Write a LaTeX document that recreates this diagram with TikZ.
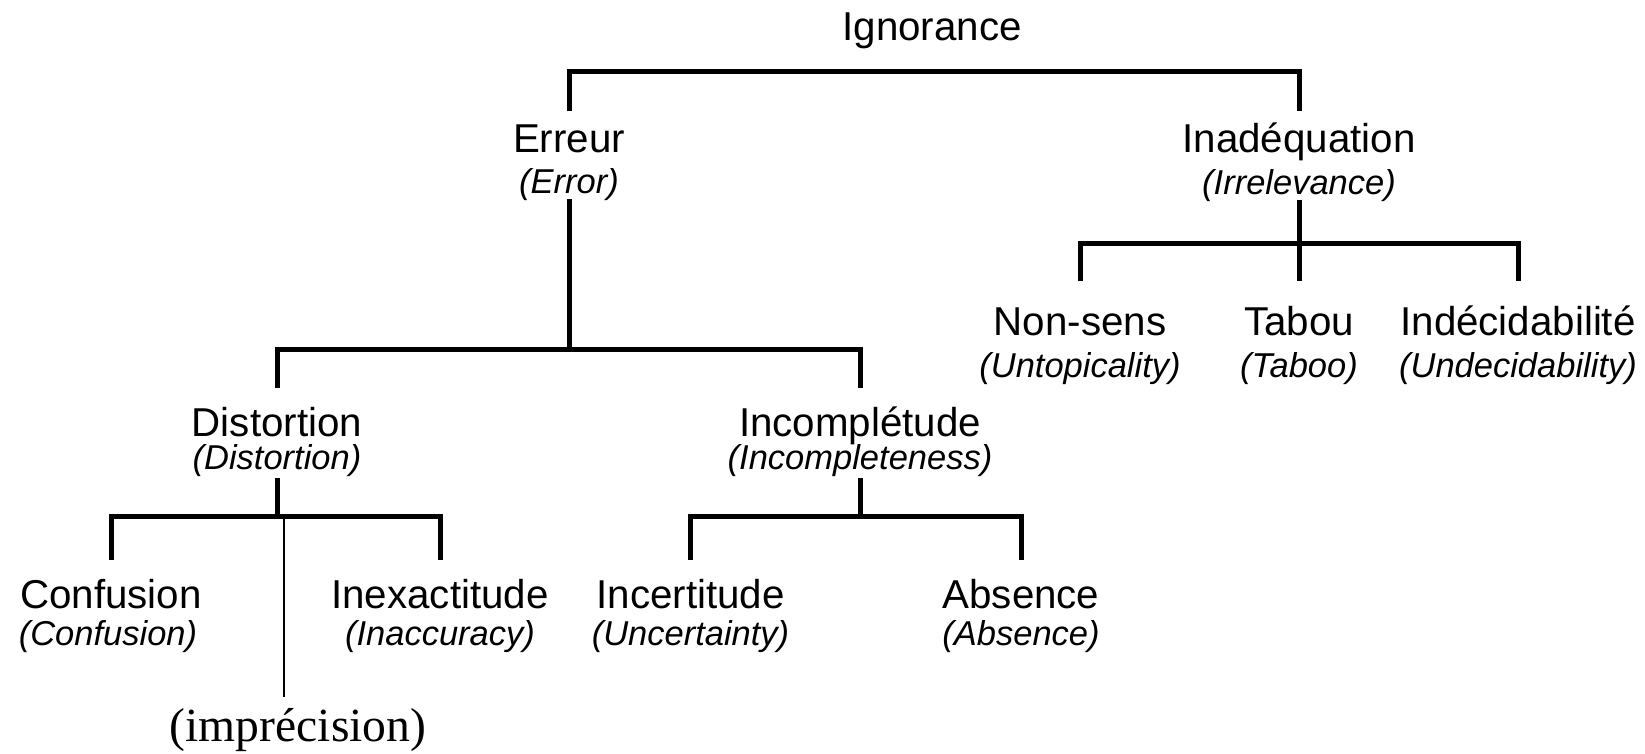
\documentclass[tikz,border=0pt]{standalone}
\usepackage{fontspec}
\setmainfont{Liberation Sans}
\newfontfamily\impfont{Liberation Serif}

\begin{document}
\begin{tikzpicture}[x=1pt,y=1pt,
    lab/.style={font=\fontsize{40.3}{44}\selectfont,anchor=base,inner xsep=0pt,text height=29pt,text depth=0pt},
    trad/.style={font=\fontsize{34.5}{38}\selectfont\itshape,anchor=base,inner xsep=0pt,text depth=0pt},
    branch/.style={line width=5pt},
    fine/.style={line width=1.2pt}]
    \useasboundingbox (0,0) rectangle (1645,754);
    % top level
    \node[lab] (ign) at (932,713.3) {Ignorance};
    \node[lab,inner ysep=12.3pt] (err) at (569,601) {Erreur};
    \node[trad,inner ysep=5.3pt] (errT) at (569,560) {(Error)};
    \node[lab,inner ysep=12.3pt] (inad) at (1299,601) {Inadéquation};
    \node[trad,inner ysep=5.4pt] (inadT) at (1299,559.4) {(Irrelevance)};
    % under Inadequation
    \node[lab,inner ysep=25.3pt] (non) at (1080,418) {Non-sens};
    \node[trad] (nonT) at (1080,376) {(Untopicality)};
    \node[lab,inner ysep=25.3pt] (tab) at (1299,418) {Tabou};
    \node[trad] (tabT) at (1299,376) {(Taboo)};
    \node[lab,inner ysep=25.3pt] (ind) at (1518,418) {Indécidabilité};
    \node[trad] (indT) at (1518,376) {(Undecidability)};
    % under Erreur
    \node[lab,inner ysep=19.7pt] (dis) at (277,317.3) {Distortion};
    \node[trad,inner ysep=8.7pt] (disT) at (277,284.4) {(Distortion)};
    \node[lab,inner ysep=19.7pt] (inc) at (860,317.3) {Incomplétude};
    \node[trad,inner ysep=8.7pt] (incT) at (860,284.4) {(Incompleteness)};
    % bottom row
    \node[lab,inner ysep=19.3pt] (conf) at (111,145.7) {Confusion};
    \node[trad] (confT) at (108,108) {(Confusion)};
    \node[lab,inner ysep=19.3pt] (inex) at (440,145.7) {Inexactitude};
    \node[trad] (inexT) at (440,108) {(Inaccuracy)};
    \node[lab,inner ysep=19.3pt] (incer) at (690.5,145.7) {Incertitude};
    \node[trad] (incerT) at (690.5,108) {(Uncertainty)};
    \node[lab,inner ysep=19.3pt] (abs) at (1021,145.7) {Absence};
    \node[trad] (absT) at (1021,108) {(Absence)};
    \node[font=\impfont\fontsize{47.6}{52}\selectfont,anchor=base] (imp) at (298,12) {(imprécision)};
    \coordinate (impTop) at (284,57);
    % branches
    \draw[branch] (err.north) -- ++(0,40) -| (inad.north);
    \draw[branch] (errT.south) -- ([yshift=38pt]errT.south |- dis.north);
    \draw[branch] (dis.north) -- ++(0,38) -| (inc.north);
    \draw[branch] (inadT.south) -- (tab.north);
    \draw[branch] (non.north) -- ++(0,38.4) -| (ind.north);
    \draw[branch] (disT.south) -- ([yshift=43.5pt]disT.south |- conf.north);
    \draw[branch] (conf.north) -- ++(0,43.5) -| (inex.north);
    \draw[branch] (incT.south) -- ([yshift=43.5pt]incT.south |- incer.north);
    \draw[branch] (incer.north) -- ++(0,43.5) -| (abs.north);
    \draw[fine] (impTop) -- ([yshift=43.5pt]impTop |- conf.north);
\end{tikzpicture}
\end{document}
